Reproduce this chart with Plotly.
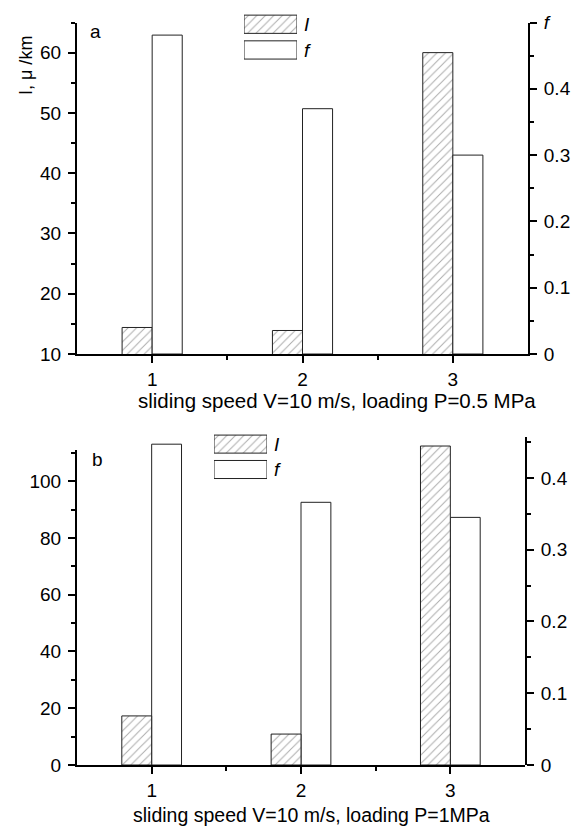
import plotly.graph_objects as go

# ---------------- data ----------------
categories = [1, 2, 3]
tick_labels = ["1", "2", "3"]
legend_labels = ["I", "f"]

# panel a: V=10 m/s, P=0.5 MPa
wear_a = [14.4, 13.9, 60.0]        # I, μ/km
friction_a = [0.481, 0.370, 0.300]  # f

# panel b: V=10 m/s, P=1 MPa
wear_b = [17.3, 10.9, 112.4]
friction_b = [0.447, 0.366, 0.345]

# ---------------- layout helpers ----------------
W, H = 573, 832
FONT = "Liberation Sans, Arial, sans-serif"
TICKSIZE = 19


def px(x):
    return x / W


def py(y):
    return 1 - y / H


HATCH = dict(shape="/", fgcolor="#555555", bgcolor="white", size=6, solidity=0.16)
EDGE = dict(color="#222222", width=1)

fig = go.Figure()

# ---- panel a ----
fig.add_trace(go.Bar(x=categories, y=wear_a, width=0.2, offset=-0.2,
                     marker=dict(color="white", pattern=HATCH, line=EDGE),
                     xaxis="x", yaxis="y", showlegend=False))
fig.add_trace(go.Bar(x=categories, y=friction_a, width=0.2, offset=0.0,
                     marker=dict(color="white", line=EDGE),
                     xaxis="x", yaxis="y2", showlegend=False))

# ---- panel b ----
# invisible trace so the visible left axis (y3) gets its subplot
fig.add_trace(go.Scatter(x=[None], y=[None], xaxis="x2", yaxis="y3",
                         mode="markers", showlegend=False, hoverinfo="skip"))
fig.add_trace(go.Bar(x=categories, y=wear_b, width=0.2, offset=-0.2,
                     marker=dict(color="white", pattern=HATCH, line=EDGE),
                     xaxis="x2", yaxis="y5", showlegend=False))
fig.add_trace(go.Bar(x=categories, y=friction_b, width=0.2, offset=0.0,
                     marker=dict(color="white", line=EDGE),
                     xaxis="x2", yaxis="y4", showlegend=False))

# ---- legend swatches (drawn as bars in small hidden axes) ----
for xa, ya in (("x3", "y6"), ("x4", "y7")):
    fig.add_trace(go.Bar(x=[1], y=[1], orientation="h", width=0.71, base=0,
                         marker=dict(color="white", pattern=HATCH, line=EDGE),
                         xaxis=xa, yaxis=ya, showlegend=False, hoverinfo="skip"))
    fig.add_trace(go.Bar(x=[1], y=[0], orientation="h", width=0.71, base=0,
                         marker=dict(color="white", line=EDGE),
                         xaxis=xa, yaxis=ya, showlegend=False, hoverinfo="skip"))

AX = dict(showline=True, linewidth=2, linecolor="black", showgrid=False,
          zeroline=False, ticks="outside", ticklen=7, tickwidth=2,
          tickcolor="black", automargin=False,
          tickfont=dict(family=FONT, size=TICKSIZE, color="black"))
MINOR = dict(ticklen=4, tickwidth=2, ticks="outside", tickcolor="black")

# geometry (pixels)
a_top, a_bot = 22.5, 354
b_top_l, b_top_r, b_bot = 450, 437, 765

left_b_range = [0, 111]
h_left = b_bot - b_top_l
h_right = b_bot - b_top_r
wear_b_hidden_max = left_b_range[1] * h_right / h_left

HID = dict(visible=False, automargin=False, fixedrange=True)

fig.update_layout(
    width=W, height=H, autosize=False,
    margin=dict(l=0, r=0, t=0, b=0, pad=0),
    plot_bgcolor="white", paper_bgcolor="white",
    font=dict(family=FONT, size=TICKSIZE, color="black"),
    barmode="overlay",
    showlegend=False,
    xaxis=dict(AX, domain=[px(77), px(528)], anchor="y", range=[0.5, 3.5],
               tickvals=categories, ticktext=tick_labels,
               minor=dict(MINOR, tickvals=[1.5, 2.5])),
    yaxis=dict(AX, domain=[py(a_bot), py(a_top)], anchor="x", range=[10, 65],
               tick0=10, dtick=10, ticklabelstandoff=3,
               minor=dict(MINOR, tick0=10, dtick=5)),
    yaxis2=dict(AX, domain=[py(a_bot), py(a_top)], anchor="x", overlaying="y",
                side="right", range=[0, 0.5], ticklabelstandoff=3,
                tickvals=[0, 0.1, 0.2, 0.3, 0.4, 0.5],
                ticktext=["0", "0.1", "0.2", "0.3", "0.4", "<i>f</i>"],
                minor=dict(MINOR, tick0=0, dtick=0.05)),
    xaxis2=dict(AX, domain=[px(77), px(525)], anchor="y3", range=[0.5, 3.5],
                tickvals=categories, ticktext=tick_labels,
                minor=dict(MINOR, tickvals=[1.5, 2.5])),
    yaxis3=dict(AX, domain=[py(b_bot), py(b_top_l)], anchor="x2", range=left_b_range,
                tick0=0, dtick=20, ticklabelstandoff=3,
                minor=dict(MINOR, tick0=10, dtick=20)),
    yaxis4=dict(AX, domain=[py(b_bot), py(b_top_r)], anchor="x2", side="right",
                range=[0, 0.457], tick0=0, dtick=0.1, ticklabelstandoff=3,
                minor=dict(MINOR, tick0=0, dtick=0.05)),
    yaxis5=dict(HID, domain=[py(b_bot), py(b_top_r)], anchor="x2", overlaying="y4",
                range=[0, wear_b_hidden_max]),
    # legend swatch axes
    xaxis3=dict(HID, domain=[px(244), px(297)], anchor="y6", range=[0, 1]),
    yaxis6=dict(HID, domain=[py(62.8), py(11.4)], anchor="x3", range=[-0.5, 1.5]),
    xaxis4=dict(HID, domain=[px(214), px(267)], anchor="y7", range=[0, 1]),
    yaxis7=dict(HID, domain=[py(482.2), py(431.4)], anchor="x4", range=[-0.5, 1.5]),
)

ann = []


def label(text, x, y, size=TICKSIZE, xanchor="center", yanchor="middle", angle=0):
    ann.append(dict(text=text, x=px(x), y=py(y), xref="paper", yref="paper",
                    showarrow=False, xanchor=xanchor, yanchor=yanchor,
                    textangle=angle, font=dict(family=FONT, size=size, color="black")))


label("a", 95, 32)
label("b", 97, 459)
label("I, μ /km", 26, 66, size=18, angle=-90)
label("sliding speed V=10 m/s, loading P=0.5 MPa", 337, 400, size=20.5)
label("sliding speed V=10 m/s, loading P=1MPa", 311, 815, size=19.5)
label("<i>" + legend_labels[0] + "</i>", 307, 25)
label("<i>" + legend_labels[1] + "</i>", 307, 50)
label("<i>" + legend_labels[0] + "</i>", 277, 444)
label("<i>" + legend_labels[1] + "</i>", 277, 469)

fig.update_layout(annotations=ann)

fig.write_html(
    "out.html",
    config={"displayModeBar": False},
    post_script="document.body.style.margin='0px';document.body.style.padding='0px';",
)
